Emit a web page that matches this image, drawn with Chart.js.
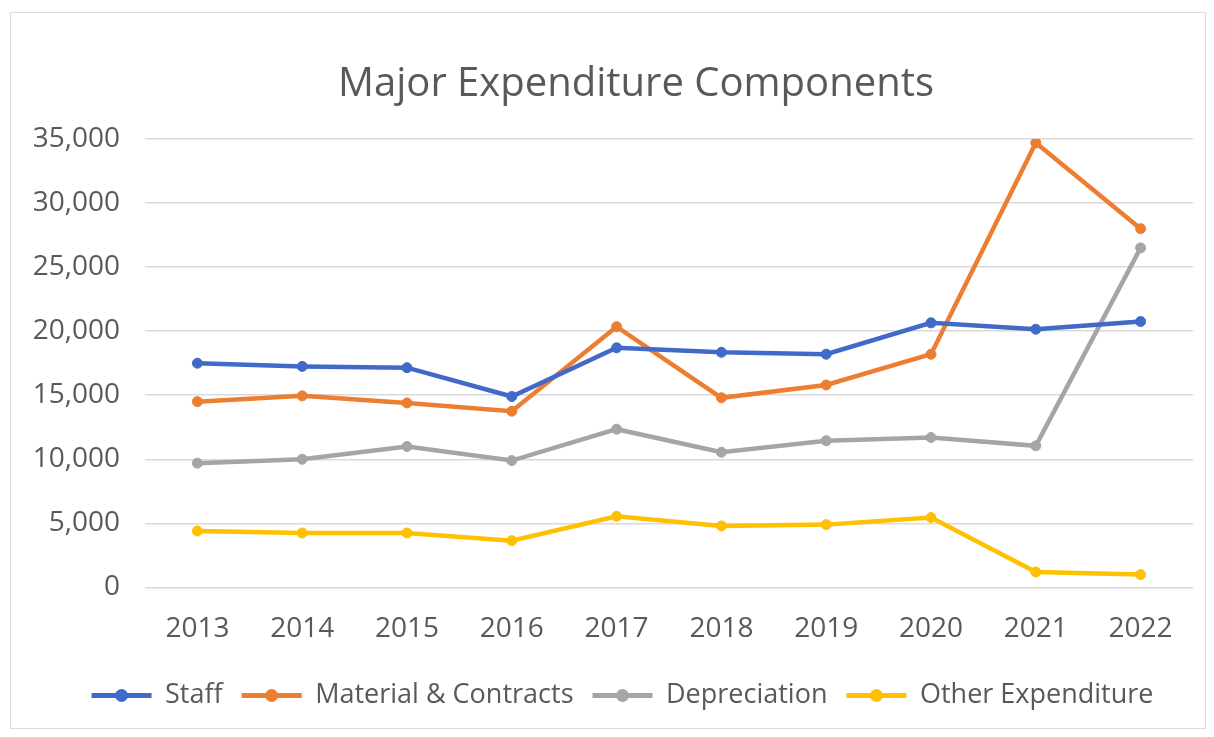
<!DOCTYPE html>
<html lang="en">
<head>
    <meta charset="UTF-8">
    <title>Major Expenditure Components</title>
    <style>
        * {
            margin: 0;
            padding: 0;
            box-sizing: border-box;
        }

        body {
            background-color: #fff;
            width: 1214px;
            height: 737px;
            overflow: hidden;
            position: relative;
        }

        .frame {
            position: absolute;
            left: 10px;
            top: 12px;
            width: 1196px;
            height: 717px;
            border: 1px solid #dcdcdc;
        }

        canvas {
            position: absolute;
            left: 0;
            top: 0;
        }
    </style>
</head>
<body>
    <div class="frame"></div>
    <canvas id="expenseChart" width="1214" height="737"></canvas>

    <script src="https://cdn.jsdelivr.net/npm/chart.js"></script>
    <script>
// values
const years = ['2013', '2014', '2015', '2016', '2017', '2018', '2019', '2020', '2021', '2022'];
const staff = [17500, 17250, 17150, 14900, 18700, 18350, 18200, 20650, 20150, 20750];
const materials = [14500, 14950, 14400, 13750, 20350, 14800, 15800, 18200, 34700, 28000];
const depreciation = [9700, 10000, 11000, 9900, 12350, 10550, 11450, 11700, 11050, 26500];
const otherExpenditure = [4400, 4250, 4250, 3650, 5550, 4800, 4900, 5450, 1200, 1000];
const yTicks = [0, 5000, 10000, 15000, 20000, 25000, 30000, 35000];

const textColor = '#595959';
const fontName = '"Open Sans", Lato, sans-serif';

function series(label, data, color) {
return {
label: label,
data: data,
borderColor: color,
backgroundColor: color,
borderWidth: 4.5,
pointRadius: 5,
pointBorderWidth: 1,
pointBackgroundColor: color,
pointBorderColor: color,
tension: 0
};
}

// title and legend sit a bit right of the canvas centre in the original
const nudgeBoxes = {
id: 'nudgeBoxes',
afterLayout(chart) {
if (chart.titleBlock) chart.titleBlock.left += 61;
if (chart.legend) chart.legend.left += 34;
}
};

// draws the little marker in the middle of each legend line
const legendMarkers = {
id: 'legendMarkers',
afterDraw(chart) {
const legend = chart.legend;
if (!legend || !legend.legendHitBoxes) return;
const ctx = chart.ctx;
const boxWidth = legend.options.labels.boxWidth;
legend.legendHitBoxes.forEach(function(box, i) {
const color = chart.data.datasets[i].borderColor;
ctx.save();
ctx.fillStyle = color;
ctx.beginPath();
ctx.arc(box.left + boxWidth / 2, box.top + box.height / 2, 6.5, 0, Math.PI * 2);
ctx.fill();
ctx.restore();
});
}
};

const ctx = document.getElementById('expenseChart').getContext('2d');
new Chart(ctx, {
type: 'line',
data: {
labels: years,
datasets: [
series('Staff', staff, '#4169c8'),
series('Material & Contracts', materials, '#ed7d31'),
series('Depreciation', depreciation, '#a5a5a5'),
series('Other Expenditure', otherExpenditure, '#ffc000')
]
},
options: {
responsive: false,
animation: false,
layout: {
padding: { left: 18, right: 21, top: 0, bottom: 18 }
},
plugins: {
title: {
display: true,
text: 'Major Expenditure Components',
color: textColor,
font: { family: fontName, size: 40, weight: 'normal' },
padding: { top: 61, bottom: 30 }
},
legend: {
position: 'bottom',
labels: {
color: textColor,
font: { family: fontName, size: 27 },
boxWidth: 60,
boxHeight: 5,
padding: 19,
// plain thin line, no outline around the legend box
generateLabels(chart) {
return Chart.defaults.plugins.legend.labels.generateLabels(chart).map(function(item) {
item.lineWidth = 0;
return item;
});
}
}
},
tooltip: { enabled: false }
},
scales: {
x: {
offset: true,
grid: { display: false },
border: { display: false },
ticks: {
color: textColor,
font: { family: fontName, size: 28 },
padding: 17,
maxRotation: 0
}
},
y: {
min: 0,
max: 35000,
afterFit(scale) { scale.width = 127; },
afterBuildTicks(scale) { scale.ticks = yTicks.map(v => ({ value: v })); },
grid: { color: '#d9d9d9', lineWidth: 1.5, drawTicks: false },
border: { display: false },
ticks: {
color: textColor,
font: { family: fontName, size: 28 },
padding: 25,
callback: v => v.toLocaleString('en-US')
}
}
}
},
plugins: [nudgeBoxes, legendMarkers]
});
    </script>
</body>
</html>
